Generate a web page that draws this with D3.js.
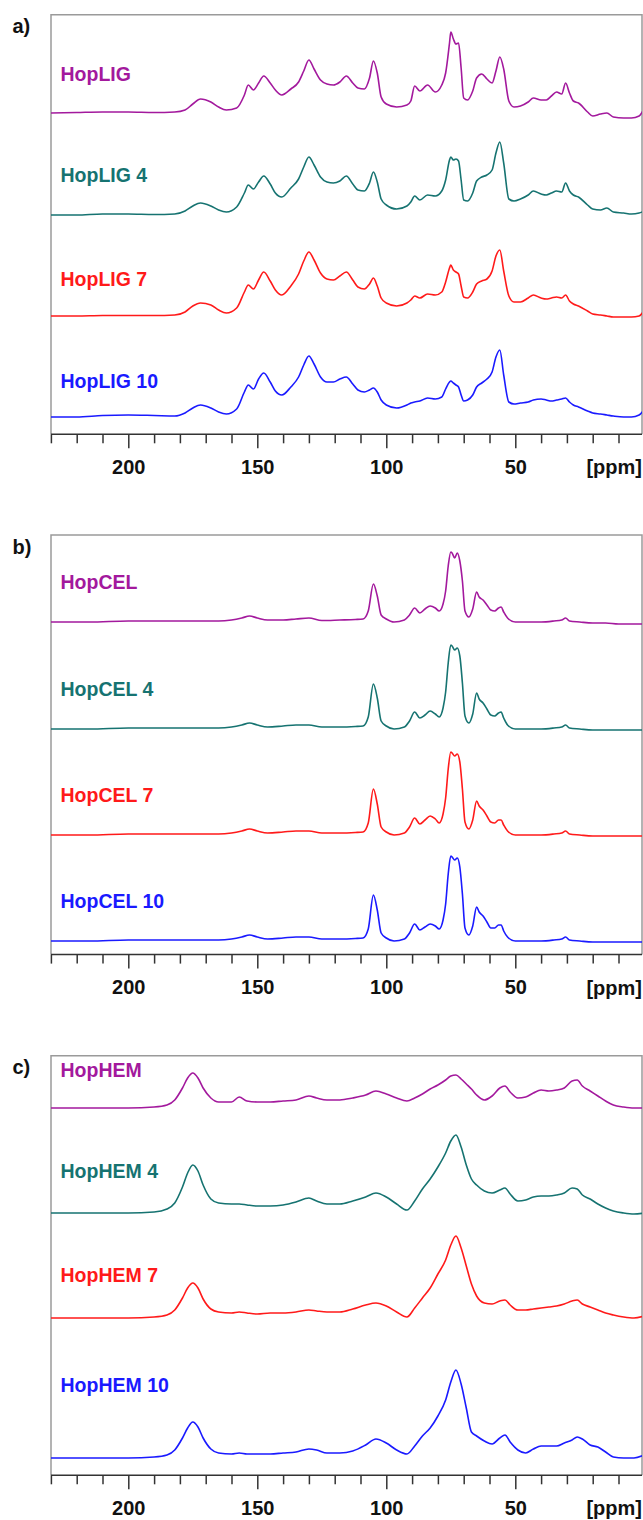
<!DOCTYPE html>
<meta charset="utf-8">
<script src="https://d3js.org/d3.v7.min.js"></script>
<style>
  body { margin: 0; background: #fff; }
  text { font-family: "Liberation Sans", Arial, sans-serif; font-weight: bold; }
</style>
<div id="my_dataviz"></div>
<script>

  // ---- data: chemical shift grids (ppm) and intensities ----
  var ppmA = [230, 220, 210, 200, 190, 182, 178, 175, 172, 168, 165, 162, 158, 155, 153.5, 151.5, 149.5, 147.5, 145, 143,
    140.5, 137, 134, 132, 130, 128, 125.5, 123, 120.5, 118, 115.5, 113, 111, 108.5, 106.5, 105, 103.5, 102, 100, 96,
    92, 90.5, 89, 87, 84, 81, 78.5, 77, 75.5, 75, 74, 73, 72, 71, 70, 68.5, 66.5, 65, 63, 61,
    59, 57.5, 56, 54.5, 52.5, 50.5, 48, 45, 43, 40, 38, 36, 34, 32, 30.5, 29, 27.5, 25.5, 22, 20,
    17, 14.5, 12, 8, 5, 2, 0];
  var hopLIG = [0, 0.5, 1, 1, 0.5, 1, 3, 9, 14, 11, 6, 3, 5, 18, 28, 23, 30, 37, 30, 23,
    18, 24, 31, 42, 53, 44, 33, 29, 28, 31, 37, 30, 25, 24, 35, 52, 40, 16, 9, 6,
    8, 12, 27, 22, 28, 21, 28, 40, 70, 81, 74, 69, 70, 45, 15, 13, 22, 35, 39, 34,
    30, 42, 56, 44, 12, 6, 7, 11, 15, 13, 13, 17, 21, 19, 30, 20, 12, 10, 1, -3,
    -1, 0, -4, -5, -5, -3, 5];
  var hopLIG4 = [0, 0, 1, 1, 0.5, 1, 4, 9, 12, 9, 5, 3, 8, 22, 30, 26, 33, 39, 31, 22,
    18, 27, 36, 48, 58, 50, 38, 33, 32, 34, 39, 31, 25, 24, 32, 43, 33, 16, 10, 6,
    9, 13, 19, 15, 20, 19, 24, 35, 55, 58, 55, 56, 54, 35, 15, 14, 22, 34, 38, 40,
    45, 62, 73, 52, 16, 14, 16, 20, 24, 21, 20, 22, 24, 23, 32, 24, 20, 18, 10, 6,
    5, 7, 3, 2, 1, 2, 4];
  var hopLIG7 = [0, 0, 0.5, 0.5, 0.5, 1, 4, 10, 13, 11, 6, 3, 8, 24, 31, 27, 36, 44, 35, 26,
    21, 30, 42, 55, 64, 56, 43, 37, 36, 40, 44, 36, 29, 27, 32, 38, 30, 18, 13, 10,
    13, 16, 20, 18, 22, 21, 24, 34, 48, 51, 46, 44, 42, 30, 19, 18, 24, 32, 35, 37,
    45, 60, 66, 45, 20, 14, 14, 18, 21, 18, 17, 18, 19, 18, 21, 15, 12, 10, 5, 2,
    1, 0, -1, -1, -1, 0, 6];
  var hopLIG10 = [0, 0, 1.5, 2, 1.5, 1, 4, 9, 12, 9, 5, 3, 8, 25, 32, 28, 38, 44, 35, 26,
    22, 30, 40, 52, 61, 53, 40, 35, 35, 38, 40, 33, 27, 25, 27, 29, 25, 17, 12, 9,
    12, 14, 15, 16, 19, 18, 20, 28, 35, 36, 34, 32, 30, 22, 16, 17, 22, 30, 34, 38,
    45, 60, 67, 42, 15, 13, 14, 15, 17, 18, 17, 16, 17, 18, 19, 15, 12, 10, 6, 4,
    3, 2, 1, 0, 0, 2, 8];

  var ppmB = [230, 215, 200, 185, 175, 170, 165, 160, 156, 153, 150, 146, 140, 135, 130, 125, 118, 112, 109, 107,
    105, 103.5, 102, 100, 97, 93, 91, 89, 87, 85, 83, 81, 79.5, 78, 77, 76, 75, 74.5, 73.5, 72.5,
    71.5, 70.5, 69.5, 68, 66.5, 65, 64, 62.5, 61, 59.5, 58, 56.5, 55.5, 54.5, 53, 50, 45, 40, 35, 32,
    30.5, 29, 25, 20, 15, 10, 5, 0];
  var hopCEL = [-1, -1, 0, 0, 0, 0, 0, 1, 3, 5, 3, 1, 1, 2, 3, 0.5, 1, 1.5, 2, 10,
    37, 25, 6, 2, -1, 1, 6, 13, 8, 12, 15, 13, 10, 17, 30, 55, 69, 68, 63, 68,
    60, 40, 10, 4, 12, 29, 24, 21, 16, 11, 10, 13, 14, 9, 3, -1, -1, -1, 0, 1,
    3, 0, -1, -2, -2, -3, -3, -3];
  var hopCEL4 = [-1, -1, 0, 0, 0, 0, 0, 1, 3, 5, 3, 1, 2, 3, 3, 1, 1, 1.5, 2, 11,
    44, 30, 7, 2, -1, 1, 7, 16, 10, 13, 17, 14, 11, 20, 36, 65, 83, 82, 78, 80,
    72, 45, 12, 5, 14, 35, 29, 25, 19, 13, 12, 15, 16, 10, 3, -1, -1, -1, 0, 1,
    3, 0, -1, -2, -2, -2, -2, -2];
  var hopCEL7 = [-1, -1, 0, 0, 0, 0, 0, 1, 3, 5, 3, 1, 2, 3, 3, 1, 1, 1.5, 2, 11,
    45, 30, 7, 2, -1, 1, 7, 16, 10, 14, 18, 15, 11, 20, 36, 65, 82, 81, 78, 80,
    72, 45, 12, 5, 14, 33, 28, 24, 18, 12, 11, 14, 14, 9, 3, -1, -1, -1, 0, 1,
    3, 0, -1, -2, -2, -2, -2, -2];
  var hopCEL10 = [-1, -1, 0, 0, 0, 0, 0, 1, 3, 5, 3, 1, 2, 3, 3, 1, 1, 1.5, 2, 11,
    45, 30, 7, 2, -1, 1, 7, 16, 10, 13, 16, 14, 11, 20, 36, 66, 84, 83, 80, 82,
    73, 46, 12, 5, 14, 33, 28, 24, 18, 12, 12, 15, 15, 9, 3, -1, -1, -1, 0, 1,
    3, 0, -1, -2, -2, -2, -2, -2];

  var ppmC = [230, 215, 200, 190, 185, 182, 179, 177, 175, 173, 171, 168, 165, 160, 157, 154, 150, 145, 140, 135,
    130, 127, 123, 118, 113, 108, 104, 100, 96, 92, 89, 86, 83, 80, 77, 75, 73, 71, 69, 67,
    65, 62, 59, 56, 54, 52, 49, 46, 43, 40, 37, 34, 31, 28, 26, 24, 21, 18, 15, 12,
    8, 4, 0];
  var hopHEM = [0, 0, 0, 1, 3, 8, 20, 30, 35, 30, 20, 10, 6, 6, 11, 7, 6, 6, 7, 8,
    12, 10, 8, 8, 10, 13, 17, 14, 10, 7, 10, 14, 19, 23, 28, 32, 33, 29, 24, 19,
    13, 8, 12, 20, 22, 16, 10, 11, 15, 18, 17, 18, 20, 27, 28, 22, 17, 12, 7, 3,
    1, 0, 0];
  var hopHEM4 = [0, 0, 0, 1, 4, 10, 26, 40, 48, 42, 28, 14, 10, 9, 9, 8, 7, 7, 8, 11,
    15, 12, 9, 9, 12, 16, 20, 16, 9, 3, 12, 24, 34, 46, 60, 72, 78, 66, 48, 34,
    28, 22, 20, 23, 25, 19, 12, 13, 16, 17, 17, 18, 20, 25, 24, 18, 14, 9, 5, 2,
    0, -1, 0];
  var hopHEM7 = [0, 0, 0, 1, 3, 8, 20, 30, 35, 30, 19, 9, 6, 5, 6, 5, 4, 5, 5, 6,
    8, 7, 6, 6, 9, 13, 15, 12, 6, 1, 10, 20, 30, 44, 58, 73, 82, 70, 52, 34,
    22, 15, 14, 17, 18, 13, 8, 8, 9, 10, 11, 12, 14, 17, 18, 14, 11, 8, 5, 3,
    1, 0, 2];
  var hopHEM10 = [0, 0, 0, 1, 3, 8, 20, 30, 36, 31, 20, 9, 5, 4, 5, 4, 4, 4, 5, 6,
    9, 8, 5, 5, 7, 13, 19, 15, 8, 4, 12, 22, 30, 42, 58, 76, 88, 74, 50, 26,
    22, 17, 14, 20, 23, 16, 8, 5, 9, 12, 12, 12, 15, 18, 21, 19, 13, 11, 6, 1,
    0, 0, 3];

  var panelLetters = ["a)", "b)", "c)"];
  var majorTicks = [200, 150, 100, 50];
  var minorTicks = [230, 220, 210, 190, 180, 170, 160, 140, 130, 120, 110, 90, 80, 70, 60, 40, 30, 20, 10];
  var traceColors = ["#a3199d", "#167371", "#ff1a1a", "#1a1aff"];

  var panels = [
    { ppm: ppmA, names: ["HopLIG", "HopLIG 4", "HopLIG 7", "HopLIG 10"], series: [hopLIG, hopLIG4, hopLIG7, hopLIG10] },
    { ppm: ppmB, names: ["HopCEL", "HopCEL 4", "HopCEL 7", "HopCEL 10"], series: [hopCEL, hopCEL4, hopCEL7, hopCEL10] },
    { ppm: ppmC, names: ["HopHEM", "HopHEM 4", "HopHEM 7", "HopHEM 10"], series: [hopHEM, hopHEM4, hopHEM7, hopHEM10] }
  ];

  // ---- layout ----
  var width = 643, height = 1520;
  var frameLeft = 51, frameRight = 642;
  var panelTops = [14.7, 535, 1055.7], panelHeight = 419.6;
  // trace baselines measured from panel top, and label heights above them
  var baseOffsets = [
    [98.3, 200.3, 301.3, 402.3],
    [86, 193, 299, 405],
    [52.3, 157.3, 262.3, 402.3]
  ];
  var labelLift = [
    [32, 33.5, 30, 29],
    [32, 32, 32, 32],
    [31, 35, 36, 66]
  ];

  var svg = d3.select("#my_dataviz")
    .append("svg")
    .attr("width", width)
    .attr("height", height);

  var x = d3.scaleLinear().domain([230, 0]).range([50.9, 644.3]);

  svg.append("clipPath").attr("id", "frameClip")
    .append("rect")
    .attr("x", frameLeft).attr("y", 0)
    .attr("width", frameRight - frameLeft).attr("height", height);

  panels.forEach(function (p, i) {
    var top = panelTops[i], bottom = top + panelHeight;
    var g = svg.append("g");

    // frame (top, left, right)
    g.append("path")
      .attr("d", "M" + frameLeft + "," + bottom + "V" + top + "H" + frameRight + "V" + bottom)
      .attr("fill", "none")
      .attr("stroke", "#9a9a9a")
      .attr("stroke-width", 1.5);

    // panel letter
    g.append("text")
      .attr("x", 12.5).attr("y", top + 18.5)
      .attr("font-size", 20).attr("fill", "#111")
      .text(panelLetters[i]);

    // spectra
    p.series.forEach(function (vals, k) {
      var base = top + baseOffsets[i][k];
      var y = d3.scaleLinear().domain([0, 100]).range([base, base - 100]);
      var line = d3.line()
        .x(function (d, j) { return x(p.ppm[j]); })
        .y(function (d) { return y(d); })
        .curve(d3.curveMonotoneX);
      g.append("path")
        .datum(vals)
        .attr("clip-path", "url(#frameClip)")
        .attr("fill", "none")
        .attr("stroke", traceColors[k])
        .attr("stroke-width", 1.6)
        .attr("d", line);
      g.append("text")
        .attr("x", 60.5).attr("y", base - labelLift[i][k])
        .attr("font-size", 19.5)
        .attr("fill", traceColors[k])
        .text(p.names[k]);
    });

    // x axis: minor and major ticks
    var minorAxis = d3.axisBottom(x).tickValues(minorTicks).tickSize(9).tickSizeOuter(0).tickFormat("");
    var majorAxis = d3.axisBottom(x).tickValues(majorTicks).tickSize(14).tickSizeOuter(0).tickPadding(11.5);
    var ga = g.append("g").attr("transform", "translate(0," + bottom + ")");
    ga.call(minorAxis);
    var gb = g.append("g").attr("transform", "translate(0," + bottom + ")");
    gb.call(majorAxis);
    gb.select(".domain").remove();
    ga.select(".domain").attr("d", "M" + frameLeft + ",0H" + frameRight);
    g.selectAll(".tick line").attr("stroke", "#333").attr("stroke-width", 1.5);
    ga.select(".domain").attr("stroke", "#333").attr("stroke-width", 1.5);
    gb.selectAll(".tick text")
      .attr("font-size", 20)
      .attr("font-family", "Liberation Sans, Arial, sans-serif")
      .attr("font-weight", "bold")
      .attr("fill", "#111");

    g.append("text")
      .attr("x", frameRight).attr("y", bottom + 40)
      .attr("text-anchor", "end")
      .attr("font-size", 20).attr("fill", "#111")
      .text("[ppm]");
  });

</script>
